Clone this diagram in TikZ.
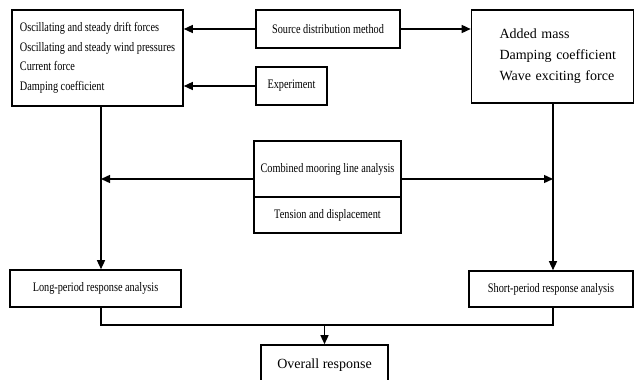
\documentclass[tikz,border=0pt]{standalone}
\usepackage{fontspec}
\setmainfont{Liberation Serif}
\newfontfamily\condfont[FakeStretch=0.79]{Liberation Serif}
\usetikzlibrary{arrows.meta,calc}
\tikzset{
  box/.style={draw=black, line width=1.6pt, rectangle, inner sep=0pt, fill=white},
  smalltxt/.style={font=\condfont\fontsize{13}{19.5}\selectfont},
  bigtxt/.style={font=\fontsize{14}{21}\selectfont},
  conn/.style={draw=black, line width=1.4pt},
  arr/.style={conn, -{Triangle[length=9pt,width=8pt]}}
}
\begin{document}
\begin{tikzpicture}[x=1pt,y=-1pt]
\useasboundingbox[fill=white] (0,0) rectangle (635,380);
% guide coordinates
\coordinate (lv) at (101,0);
\coordinate (rv) at (553,0);
\coordinate (cy) at (0,179);
\coordinate (by) at (0,325);
% boxes
\node[box, smalltxt, align=left, minimum width=171pt, minimum height=96pt] (forces) at (97.5,58)
  {Oscillating and steady drift forces\\Oscillating and steady wind pressures\\Current force\\Damping coefficient};
\node[box, smalltxt, minimum width=144pt, minimum height=38pt] (src) at (328,29) {Source distribution method};
\node[box, smalltxt, minimum width=71pt, minimum height=38pt] (exp) at (291.5,86) {Experiment};
\node[box, bigtxt, align=left, text width=162pt, minimum height=93pt] (added) at (552.5,56.5)
  {\hspace*{28pt}Added mass\\\hspace*{28pt}Damping coefficient\\\hspace*{28pt}Wave exciting force};
\node[box, smalltxt, minimum width=147pt, minimum height=56pt] (comb) at (327.5,169) {Combined mooring line analysis};
\node[box, smalltxt, minimum width=147pt, minimum height=36pt] (tens) at (327.5,215) {Tension and displacement};
\node[box, smalltxt, minimum width=171pt, minimum height=37pt] (long) at (95.5,288.5) {Long-period response analysis};
\node[box, smalltxt, minimum width=164pt, minimum height=36pt] (short) at (551,289) {Short-period response analysis};
\node[box, bigtxt, minimum width=127pt, minimum height=40pt] (overall) at (324.5,365) {Overall response};
% connectors
\draw[arr] (src.west) -- (src.west -| forces.east);
\draw[arr] (exp.west) -- (exp.west -| forces.east);
\draw[arr] (src.east) -- (src.east -| added.west);
\draw[arr] (forces.south -| lv) -- (long.north -| lv);
\draw[arr] (added.south -| rv) -- (short.north -| rv);
\draw[arr] (comb.west |- cy) -- (lv |- cy);
\draw[arr] (comb.east |- cy) -- (rv |- cy);
\draw[conn] (long.south -| lv) -- (lv |- by) -- (rv |- by) -- (short.south -| rv);
\draw[arr] (overall.north |- by) -- (overall.north);
\end{tikzpicture}
\end{document}
